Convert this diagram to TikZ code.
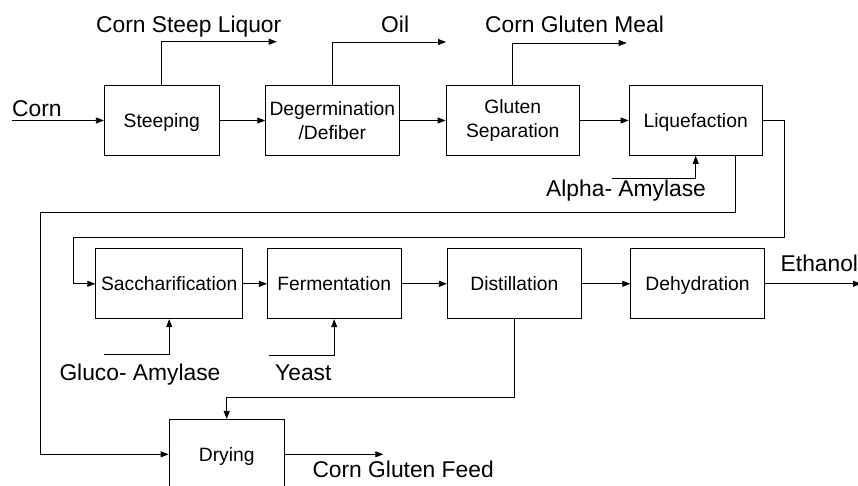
\documentclass[tikz,border=0pt]{standalone}
\usepackage{fontspec}
\setmainfont{Liberation Sans}
\usetikzlibrary{arrows.meta}
\begin{document}
\begin{tikzpicture}[x=1pt,y=-1pt,
  flow/.style={line width=0.8pt,-{Triangle[length=8pt,width=6pt]}},
  unit/.style={draw,line width=0.8pt,minimum height=70pt,inner sep=1pt,align=center,
    font=\fontsize{19.3}{23.5}\selectfont},
  oneline/.style={text height=17.8pt,text depth=4pt},
  stream/.style={anchor=base west,inner sep=0pt,font=\fontsize{22.8}{26}\selectfont}]
\useasboundingbox (0,0) rectangle (858,486);
\clip (0,0) rectangle (858,486);

% process units
\node[unit,oneline,minimum width=115pt] (steep)  at (161.8,120.5) {Steeping};
\node[unit,minimum width=133.3pt]       (degerm) at (332.3,120.5) {Degermination\\/Defiber};
\node[unit,minimum width=133.3pt]       (gluten) at (512.7,120.5) {Gluten\\Separation};
\node[unit,oneline,minimum width=133.3pt] (liq)  at (695.7,120.5) {Liquefaction};
\node[unit,oneline,minimum width=147pt]   (sacch) at (169.2,283.8) {Saccharification};
\node[unit,oneline,minimum width=133.7pt] (ferm)  at (334.2,283.8) {Fermentation};
\node[unit,oneline,minimum width=134pt]   (dist)  at (514.3,283.8) {Distillation};
\node[unit,oneline,minimum width=133.6pt] (dehyd) at (697.5,283.8) {Dehydration};
\node[unit,oneline,minimum width=115.3pt] (dry)   at (226.7,454.3) {Drying};

% stream labels
\node[stream] (lcorn)  at (12,116.5)   {Corn};
\node[stream] (lcsl)   at (96,33)      {Corn Steep Liquor};
\node[stream] (loil)   at (381,33)     {Oil};
\node[stream] (lmeal)  at (485,33)     {Corn Gluten Meal};
\node[stream] (lalpha) at (546,196.5)  {Alpha- Amylase};
\node[stream] (leth)   at (780.5,271.5){Ethanol};
\node[stream] (lgluco) at (59.3,380)   {Gluco- Amylase};
\node[stream] (lyeast) at (275,380)    {Yeast};
\node[stream] (lfeed)  at (312.3,477.3){Corn Gluten Feed};

% free ends and bends
\coordinate (cornin)  at (12,120.5);
\coordinate (cslout)  at (276.7,41.7);
\coordinate (oilout)  at (446,42);
\coordinate (mealout) at (626.7,43);
\coordinate (alphain) at (611.7,178.3);
\coordinate (r1)      at (784.3,237);
\coordinate (r2)      at (73.3,237);
\coordinate (l1)      at (40.7,212);
\coordinate (glin)    at (104.3,354.3);
\coordinate (yin)     at (269,355.7);
\coordinate (d1)      at (226.7,397.3);
\coordinate (ethout)  at (861,283.8);
\coordinate (feedout) at (383.3,454.3);

% main line
\draw[flow] (cornin) -- (steep.west);
\draw[flow] (steep.east) -- (degerm.west);
\draw[flow] (degerm.east) -- (gluten.west);
\draw[flow] (gluten.east) -- (liq.west);
\draw[flow] (liq.east) -| (r1) -- (r2) |- (sacch.west);
\draw[flow] (sacch.east) -- (ferm.west);
\draw[flow] (ferm.east) -- (dist.west);
\draw[flow] (dist.east) -- (dehyd.west);
\draw[flow] (dehyd.east) -- (ethout);

% side streams
\draw[flow] (steep.north) |- (cslout);
\draw[flow] (degerm.north) |- (oilout);
\draw[flow] (gluten.north) |- (mealout);
\draw[flow] (alphain) -| (liq.south);
\draw[flow] ([xshift=39.3pt]liq.south) |- (l1) |- (dry.west);
\draw[flow] (glin) -| (sacch.south);
\draw[flow] (yin) -| (ferm.south);
\draw[flow] (dist.south) |- (d1) -- (dry.north);
\draw[flow] (dry.east) -- (feedout);
\end{tikzpicture}
\end{document}
